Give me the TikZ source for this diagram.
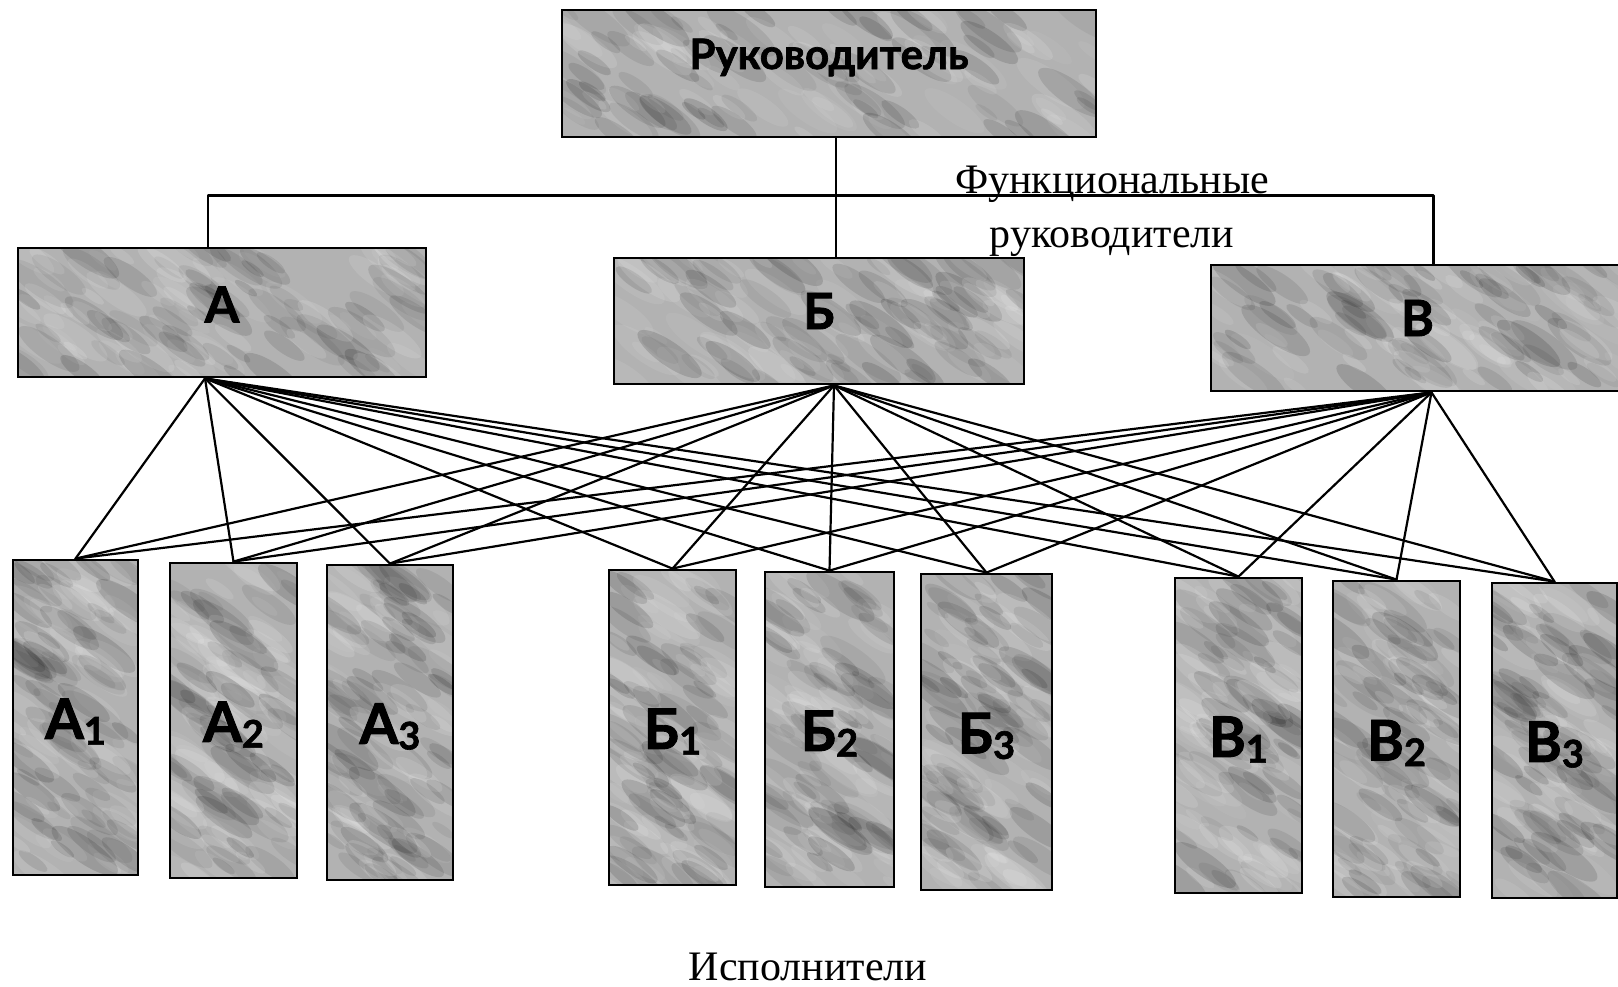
\documentclass[tikz,border=0pt]{standalone}
\usepackage{fontspec}
\setmainfont{Liberation Serif}
\newfontfamily\lblfont{Lato}[BoldFeatures={FakeBold=1.6}]
\usetikzlibrary{calc}

% subscript index for the executor boxes
\newcommand\subidx[1]{\raisebox{-0.1em}{\fontsize{19}{19}\selectfont #1}}

\tikzset{
  % marbled grey fill: random light and dark diagonal streaks clipped to the box
  mottle/.style={path picture={
    \pgfpointanchor{path picture bounding box}{south west}\pgfgetlastxy{\mxa}{\mya}
    \pgfpointanchor{path picture bounding box}{north east}\pgfgetlastxy{\mxb}{\myb}
    \foreach \k in {1,...,130}{
      \pgfmathsetmacro\px{\mxa+rnd*(\mxb-\mxa)}
      \pgfmathsetmacro\py{\mya+rnd*(\myb-\mya)}
      \pgfmathsetmacro\rr{2+4.5*rnd}
      \pgfmathsetmacro\oo{0.05+0.09*rnd}
      \pgfmathtruncatemacro\cc{rnd<0.5 ? 0 : 100}
      \begin{scope}
        \pgftransformshift{\pgfpoint{\px pt}{\py pt}}
        \pgftransformrotate{-35}
        \pgfpathellipse{\pgfpointorigin}{\pgfpoint{3.2*\rr pt}{0pt}}{\pgfpoint{0pt}{\rr pt}}
        \pgfsetfillcolor{white!\cc!black}
        \pgfsetfillopacity{\oo}
        \pgfusepath{fill}
      \end{scope}
    }
  }},
  box/.style={draw=black, line width=1.4pt, fill=black!30, inner sep=0pt, mottle},
  link/.style={line width=1.1pt, line cap=round, line join=round},
  toplbl/.style={font=\lblfont\bfseries\fontsize{21}{21}\selectfont},
  midlbl/.style={font=\lblfont\bfseries\fontsize{25}{25}\selectfont},
  botlbl/.style={font=\lblfont\bfseries\fontsize{28}{28}\selectfont},
  caption/.style={font=\fontsize{21}{21}\selectfont, inner sep=0pt, anchor=base},
}

% box from pixel corners: name, x1, y1, x2, y2
\newcommand\pbox[5]{%
  \node[box, minimum width={(#4-#2)*0.5pt}, minimum height={(#5-#3)*0.5pt}]
    (#1) at ({(#2+#4)/2},{(#3+#5)/2}) {};}

\begin{document}
\pgfmathsetseed{11}
\begin{tikzpicture}[x=0.5pt, y=-0.5pt]
  \useasboundingbox (0,0) rectangle (1618,986);

  % head
  \pbox{boss}{562}{10}{1096}{137}
  % functional managers
  \pbox{A}{18}{248}{426}{377}
  \pbox{B}{614}{258}{1024}{384}
  \pbox{V}{1211}{265}{1628}{391}
  % executors
  \pbox{a1}{13}{560}{138}{875}
  \pbox{a2}{170}{563}{297}{878}
  \pbox{a3}{327}{565}{453}{880}
  \pbox{b1}{609}{570}{736}{885}
  \pbox{b2}{765}{572}{894}{887}
  \pbox{b3}{921}{574}{1052}{890}
  \pbox{v1}{1175}{578}{1302}{893}
  \pbox{v2}{1333}{581}{1460}{897}
  \pbox{v3}{1492}{583}{1617}{898}

  % box labels
  \node[toplbl] (boss-t) at ([yshift=8pt]boss.center) {Руководитель};
  \node[midlbl] (A-t) at ([yshift=4pt]A.center) {А};
  \node[midlbl] (B-t) at ([yshift=5pt]B.center) {Б};
  \node[midlbl] (V-t) at ([yshift=5pt,xshift=-1pt]V.center) {В};
  \foreach \n/\l/\d in {a1/А/1, a2/А/2, a3/А/3, b1/Б/1, b2/Б/2, b3/Б/3, v1/В/1, v2/В/2, v3/В/3}
    \node[botlbl] (\n-t) at ([yshift=-2pt]\n.center) {\l\subidx{\d}};

  % connection points on the managers' boxes
  \coordinate (boss-out) at ([xshift=3.5pt]boss.south);
  \coordinate (hub) at ([yshift=-28.5pt]boss-out);
  \coordinate (A-in) at ([xshift=-7pt]A.north);
  \coordinate (B-in) at ([xshift=8.5pt]B.north);
  \coordinate (V-in) at ([xshift=7pt]V.north);
  \coordinate (A-out) at ([xshift=-8.5pt]A.south);
  \coordinate (B-out) at ([xshift=7.5pt]B.south);
  \coordinate (V-out) at ([xshift=6pt]V.south);

  % line management tree
  \draw[link] (boss-out) -- (B-in);
  \draw[link] (A-in) -- (A-in |- hub) -- (V-in |- hub) -- (V-in);

  % every functional manager reaches every executor
  \foreach \s in {A,B,V}
    \foreach \t in {a1,a2,a3,b1,b2,b3,v1,v2,v3}
      \draw[link] (\s-out) -- (\t.north);

  % captions
  \node[caption] (func1) at (1112,193) {Функциональные};
  \node[caption] (func2) at (1112,247) {руководители};
  \node[caption] (exec) at (808,980) {Исполнители};
\end{tikzpicture}
\end{document}
